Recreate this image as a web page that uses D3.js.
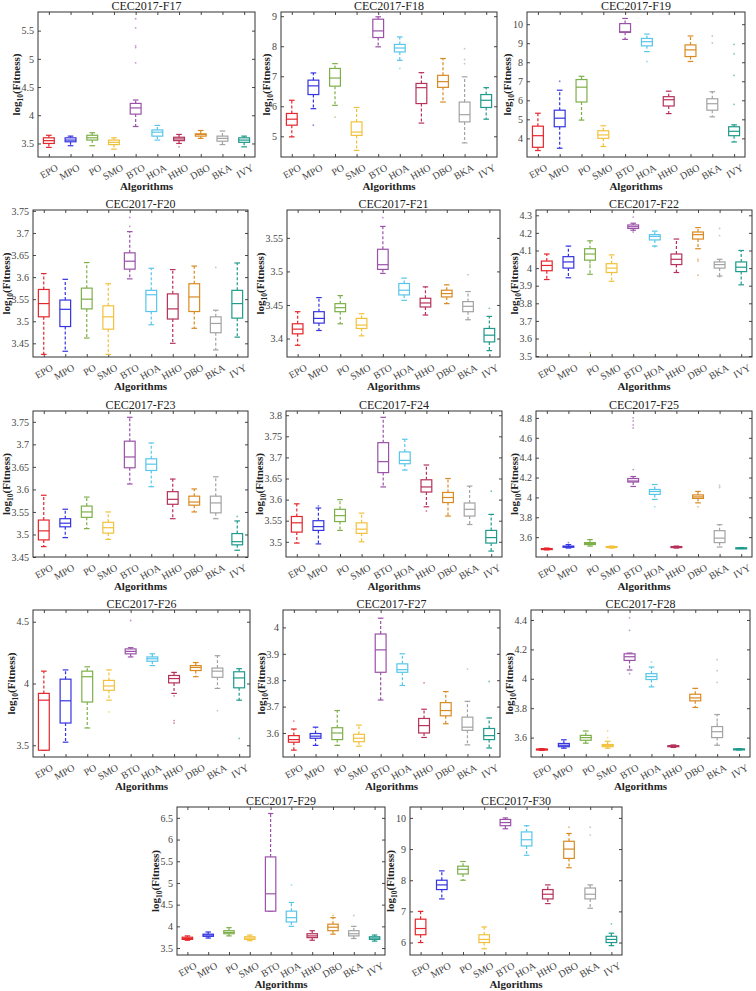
<!DOCTYPE html>
<html><head><meta charset="utf-8">
<script src="https://cdn.jsdelivr.net/npm/d3@7"></script>
<style>
body{margin:0;background:#fff}
svg text{font-family:"Liberation Serif","Times New Roman",serif}
</style>
</head><body>
<svg id="chart" width="756" height="991"></svg>
<script>
const categories = ["EPO","MPO","PO","SMO","BTO","HOA","HHO","DBO","BKA","IVY"];
const colors = ["#e5262c","#3434e0","#7db04a","#f2c13c","#9a52a8","#58c6ea","#b6325a","#d98a22","#a3a3a3","#1f9a8c"];
const titles = ["CEC2017-F17","CEC2017-F18","CEC2017-F19","CEC2017-F20","CEC2017-F21","CEC2017-F22","CEC2017-F23","CEC2017-F24","CEC2017-F25","CEC2017-F26","CEC2017-F27","CEC2017-F28","CEC2017-F29","CEC2017-F30"];

// box stats per algorithm: [lower whisker, Q1, median, Q3, upper whisker]
const F17_box = [[3.43,3.50,3.55,3.60,3.645],[3.46,3.53,3.56,3.60,3.63],[3.46,3.56,3.60,3.645,3.69],[3.40,3.48,3.52,3.56,3.60],[3.80,4.02,4.13,4.21,4.27],[3.56,3.63,3.70,3.74,3.82],[3.50,3.55,3.58,3.61,3.66],[3.59,3.63,3.66,3.67,3.73],[3.48,3.54,3.59,3.63,3.72],[3.44,3.52,3.56,3.60,3.63]];
const F17_out = [[],[],[],[],[4.93,5.20,5.23,5.55,5.71],[],[3.44],[],[],[]];
const F17_ticks = [3.5,4,4.5,5,5.5];
const F17_domain = [3.26,5.83];

const F18_box = [[4.98,5.37,5.57,5.76,6.2],[5.92,6.39,6.68,6.87,7.11],[6.03,6.67,6.94,7.26,7.42],[4.53,5.03,5.14,5.48,5.96],[7.98,8.29,8.51,8.90,8.98],[7.53,7.81,7.94,8.06,8.31],[5.44,6.09,6.62,6.76,7.12],[6.14,6.63,6.82,7.03,7.59],[4.78,5.48,5.72,6.14,6.98],[5.57,5.96,6.2,6.39,6.62]];
const F18_out = [[],[5.37],[5.64],[],[],[7.26],[],[],[7.92,7.56,7.42],[]];
const F18_ticks = [5,6,7,8,9];
const F18_domain = [4.31,9.14];

const F19_box = [[3.36,3.53,4.14,4.64,5.32],[3.48,4.61,5.06,5.48,6.53],[4.96,5.91,6.69,7.09,7.26],[3.57,4.0,4.18,4.4,4.66],[9.2,9.57,9.6,10.03,10.3],[8.56,8.86,9.08,9.25,9.48],[5.3,5.7,6.03,6.19,6.48],[8.04,8.3,8.65,8.91,9.38],[5.13,5.48,5.82,6.08,6.45],[3.81,4.14,4.37,4.61,4.71]];
const F19_out = [[],[7.0],[],[],[],[8.04],[],[],[9.38,9.01],[8.94,8.44,7.31,5.79]];
const F19_ticks = [4,5,6,7,8,9,10];
const F19_domain = [3.02,10.64];

const F20_box = [[3.425,3.51,3.54,3.572,3.608],[3.432,3.488,3.527,3.548,3.595],[3.462,3.528,3.55,3.575,3.633],[3.425,3.482,3.51,3.535,3.585],[3.596,3.618,3.636,3.655,3.703],[3.492,3.522,3.56,3.57,3.62],[3.45,3.505,3.528,3.562,3.617],[3.484,3.522,3.555,3.585,3.625],[3.435,3.474,3.495,3.51,3.525],[3.464,3.507,3.54,3.57,3.632]];
const F20_out = [[],[],[],[],[3.715,3.735],[],[],[],[3.622],[]];
const F20_ticks = [3.45,3.5,3.55,3.6,3.65,3.7,3.75];
const F20_domain = [3.419,3.752];

const F21_box = [[3.39,3.407,3.414,3.422,3.44],[3.412,3.423,3.43,3.44,3.461],[3.422,3.44,3.446,3.452,3.464],[3.404,3.415,3.42,3.43,3.437],[3.497,3.503,3.51,3.533,3.567],[3.457,3.465,3.472,3.482,3.49],[3.435,3.447,3.453,3.46,3.477],[3.452,3.462,3.467,3.472,3.48],[3.428,3.44,3.448,3.455,3.47],[3.382,3.395,3.405,3.415,3.433]];
const F21_out = [[],[],[],[],[3.58],[],[],[],[3.495],[3.445]];
const F21_ticks = [3.4,3.45,3.5,3.55];
const F21_domain = [3.3725,3.5915];

const F22_box = [[3.935,3.985,4.015,4.04,4.08],[3.945,4.0,4.035,4.065,4.125],[3.965,4.045,4.08,4.11,4.155],[3.925,3.975,4.0,4.025,4.075],[4.215,4.225,4.235,4.245,4.255],[4.125,4.16,4.18,4.19,4.21],[3.975,4.02,4.05,4.08,4.165],[4.11,4.165,4.19,4.205,4.23],[3.955,4.0,4.02,4.035,4.05],[3.905,3.98,4.005,4.035,4.1]];
const F22_out = [[],[],[4.02,3.52],[],[4.29,4.205],[4.12],[],[4.05,4.04,3.96],[4.225,4.185,3.95],[]];
const F22_ticks = [3.5,3.6,3.7,3.8,3.9,4,4.1,4.2,4.3];
const F22_domain = [3.495,4.33];

const F23_box = [[3.473,3.488,3.508,3.532,3.587],[3.493,3.517,3.525,3.535,3.556],[3.513,3.538,3.55,3.563,3.583],[3.489,3.503,3.515,3.527,3.55],[3.612,3.648,3.672,3.707,3.76],[3.606,3.642,3.656,3.668,3.703],[3.535,3.567,3.578,3.595,3.623],[3.55,3.565,3.572,3.585,3.601],[3.535,3.548,3.57,3.585,3.628],[3.465,3.477,3.484,3.502,3.53]];
const F23_out = [[],[],[],[],[],[],[],[],[],[3.54]];
const F23_ticks = [3.45,3.5,3.55,3.6,3.65,3.7,3.75];
const F23_domain = [3.45,3.774];

const F24_box = [[3.497,3.523,3.545,3.56,3.59],[3.495,3.527,3.536,3.55,3.58],[3.527,3.548,3.562,3.577,3.6],[3.5,3.52,3.53,3.545,3.568],[3.63,3.664,3.69,3.735,3.795],[3.67,3.685,3.693,3.713,3.743],[3.583,3.618,3.63,3.647,3.682],[3.561,3.593,3.605,3.617,3.65],[3.541,3.561,3.577,3.592,3.632],[3.478,3.497,3.51,3.527,3.565]];
const F24_out = [[],[3.585],[],[],[],[],[3.573],[],[],[3.62]];
const F24_ticks = [3.5,3.55,3.6,3.65,3.7,3.75,3.8];
const F24_domain = [3.464,3.81];

const F25_box = [[3.472,3.477,3.48,3.485,3.49],[3.49,3.498,3.505,3.51,3.525],[3.51,3.525,3.535,3.545,3.575],[3.49,3.495,3.5,3.505,3.51],[4.11,4.155,4.165,4.19,4.21],[3.98,4.03,4.06,4.08,4.13],[3.49,3.495,3.5,3.505,3.51],[3.945,3.99,4.005,4.025,4.06],[3.5,3.545,3.59,3.665,3.725],[3.485,3.488,3.49,3.492,3.495]];
const F25_out = [[],[3.545],[],[],[4.28,4.7,4.73,4.77,4.8],[3.905],[],[3.905],[4.1,4.12],[]];
const F25_ticks = [3.6,3.8,4,4.2,4.4,4.6,4.8];
const F25_domain = [3.40,4.87];

const F26_box = [[3.46,3.46,3.865,3.92,4.1],[3.525,3.68,3.86,4.035,4.11],[3.64,3.85,4.055,4.1,4.135],[3.865,3.945,3.98,4.025,4.11],[4.215,4.24,4.26,4.28,4.29],[4.145,4.18,4.2,4.215,4.24],[3.92,4.005,4.04,4.065,4.09],[4.055,4.105,4.13,4.145,4.17],[3.96,4.05,4.1,4.125,4.225],[3.865,3.965,4.045,4.095,4.12]];
const F26_out = [[],[],[],[3.77],[4.51],[],[3.9,3.7,3.68],[],[3.78],[3.555]];
const F26_ticks = [3.5,4,4.5];
const F26_domain = [3.405,4.595];

const F27_box = [[3.535,3.565,3.575,3.59,3.615],[3.553,3.58,3.588,3.598,3.622],[3.553,3.575,3.6,3.62,3.685],[3.55,3.567,3.58,3.595,3.63],[3.725,3.83,3.915,3.975,4.035],[3.78,3.83,3.84,3.862,3.9],[3.583,3.6,3.628,3.655,3.69],[3.635,3.665,3.685,3.715,3.757],[3.555,3.61,3.622,3.66,3.72],[3.543,3.575,3.59,3.617,3.657]];
const F27_out = [[3.645],[],[],[],[],[],[3.79],[],[3.842],[3.795]];
const F27_ticks = [3.6,3.7,3.8,3.9,4];
const F27_domain = [3.509,4.066];

const F28_box = [[3.513,3.517,3.52,3.522,3.525],[3.528,3.538,3.548,3.56,3.585],[3.562,3.582,3.6,3.615,3.645],[3.528,3.538,3.545,3.553,3.575],[4.06,4.125,4.15,4.17,4.175],[3.945,3.995,4.015,4.035,4.08],[3.533,3.538,3.542,3.545,3.55],[3.805,3.85,3.87,3.895,3.935],[3.548,3.6,3.64,3.675,3.757],[3.516,3.519,3.521,3.523,3.525]];
const F28_out = [[],[],[],[3.645,3.6],[4.415,4.33,4.035],[4.115],[],[],[4.13,4.055,3.975,3.7],[]];
const F28_ticks = [3.6,3.8,4,4.2,4.4];
const F28_domain = [3.468,4.468];

const F29_box = [[3.68,3.7,3.72,3.75,3.78],[3.73,3.77,3.8,3.82,3.87],[3.78,3.83,3.86,3.9,3.97],[3.67,3.7,3.73,3.76,3.8],[4.35,4.35,4.75,5.6,6.6],[4.0,4.1,4.2,4.35,4.55],[3.68,3.74,3.78,3.83,3.9],[3.82,3.9,3.98,4.05,4.2],[3.72,3.78,3.83,3.9,4.0],[3.66,3.7,3.73,3.76,3.8]];
const F29_out = [[],[],[],[],[],[4.95],[],[4.25],[4.25],[]];
const F29_ticks = [3.5,4,4.5,5,5.5,6,6.5];
const F29_domain = [3.34,6.75];

const F30_box = [[6.0,6.25,6.45,6.75,7.0],[7.4,7.7,7.85,8.0,8.3],[8.0,8.2,8.35,8.45,8.6],[5.8,6.0,6.1,6.25,6.5],[9.65,9.75,9.85,9.95,10.0],[8.8,9.1,9.3,9.55,9.75],[7.25,7.4,7.55,7.7,7.85],[8.4,8.7,9.0,9.25,9.5],[7.1,7.4,7.55,7.75,7.85],[5.9,6.0,6.1,6.2,6.3]];
const F30_out = [[],[],[],[],[10.3],[],[],[9.7],[9.7,9.45],[6.6]];
const F30_ticks = [6,7,8,9,10];
const F30_domain = [5.6,10.35];

const boxes = [F17_box,F18_box,F19_box,F20_box,F21_box,F22_box,F23_box,F24_box,F25_box,F26_box,F27_box,F28_box,F29_box,F30_box];
const outs = [F17_out,F18_out,F19_out,F20_out,F21_out,F22_out,F23_out,F24_out,F25_out,F26_out,F27_out,F28_out,F29_out,F30_out];
const ticksList = [F17_ticks,F18_ticks,F19_ticks,F20_ticks,F21_ticks,F22_ticks,F23_ticks,F24_ticks,F25_ticks,F26_ticks,F27_ticks,F28_ticks,F29_ticks,F30_ticks];
const domains = [F17_domain,F18_domain,F19_domain,F20_domain,F21_domain,F22_domain,F23_domain,F24_domain,F25_domain,F26_domain,F27_domain,F28_domain,F29_domain,F30_domain];

// plot-area layout [left, top, width, height]
const layout = [
  [38,12,217,145],[281,12,216,145],[527,12,218,145],
  [33,210,215,147],[287,210,213,147],[536,210,216,147],
  [33,411,215,146],[286,411,216,146],[536,411,216,146],
  [33,610,217,147],[283,610,217,147],[531,610,219,147],
  [177,807,208,148],[410,807,212,148]
];

const svg = d3.select("#chart");
const fmt = v => String(+v.toFixed(2));

titles.forEach((title, p) => {
  const [L, T, W, H] = layout[p];
  const g = svg.append("g").attr("transform", `translate(${L},${T})`);
  const x = d3.scalePoint().domain(categories).range([0, W]).padding(0.5);
  const y = d3.scaleLinear().domain(domains[p]).range([H, 0]);
  const step = x.step();
  const bw = step * 0.25, cw = step * 0.13;

  // axes
  const la = g.append("g").call(d3.axisLeft(y).tickValues(ticksList[p]).tickFormat(fmt).tickSize(-3).tickPadding(4));
  const ra = g.append("g").attr("transform", `translate(${W},0)`).call(d3.axisRight(y).tickValues(ticksList[p]).tickFormat("").tickSize(-3));
  const ba = g.append("g").attr("transform", `translate(0,${H})`).call(d3.axisBottom(x).tickSize(-3).tickPadding(5));
  const ta = g.append("g").call(d3.axisTop(x).tickSize(-3).tickFormat(""));
  [la, ra, ba, ta].forEach(a => {
    a.select(".domain").remove();
    a.selectAll("line").attr("stroke", "#333").attr("stroke-width", 0.9);
  });
  la.selectAll("text").attr("fill", "#444").style("font-size", "10px");
  ba.selectAll("text").attr("fill", "#444").style("font-size", "10px")
    .attr("text-anchor", "end").attr("dy", "0.6em")
    .attr("transform", "translate(4,3) rotate(-30)");
  g.append("rect").attr("width", W).attr("height", H).attr("fill", "none")
    .attr("stroke", "#333").attr("stroke-width", 1);

  // boxes
  boxes[p].forEach((b, i) => {
    const c = categories[i], cx = x(c), col = colors[i];
    const [lo, q1, md, q3, hi] = b;
    const bg = g.append("g");
    bg.append("line").attr("x1", cx).attr("x2", cx).attr("y1", y(q3)).attr("y2", y(hi))
      .attr("stroke", col).attr("stroke-width", 1.2).attr("stroke-dasharray", "3,2");
    bg.append("line").attr("x1", cx).attr("x2", cx).attr("y1", y(q1)).attr("y2", y(lo))
      .attr("stroke", col).attr("stroke-width", 1.2).attr("stroke-dasharray", "3,2");
    [lo, hi].forEach(v => bg.append("line").attr("x1", cx - cw).attr("x2", cx + cw)
      .attr("y1", y(v)).attr("y2", y(v)).attr("stroke", col).attr("stroke-width", 1.2));
    bg.append("rect").attr("x", cx - bw).attr("width", 2 * bw)
      .attr("y", y(q3)).attr("height", Math.max(1, y(q1) - y(q3)))
      .attr("fill", "#fff").attr("stroke", col).attr("stroke-width", 1.2);
    bg.append("line").attr("x1", cx - bw).attr("x2", cx + bw).attr("y1", y(md)).attr("y2", y(md))
      .attr("stroke", col).attr("stroke-width", 1.2);
    outs[p][i].forEach(v => bg.append("circle").attr("cx", cx).attr("cy", y(v)).attr("r", 0.9)
      .attr("fill", col).attr("opacity", 0.6));
  });

  // title and labels
  g.append("text").attr("x", W / 2).attr("y", -2).attr("text-anchor", "middle")
    .style("font-size", "12px").attr("fill", "#222").text(title);
  g.append("text").attr("x", W / 2).attr("y", H + 33).attr("text-anchor", "middle")
    .style("font-size", "11px").style("font-weight", "bold").attr("fill", "#222").text("Algorithms");
  const bb = la.node().getBBox();
  const lx = Math.max(bb.x - 2, 10 - L);
  const yl = g.append("text").attr("transform", `translate(${lx},${H / 2}) rotate(-90)`)
    .attr("text-anchor", "middle").style("font-size", "11px").style("font-weight", "bold").attr("fill", "#222");
  yl.append("tspan").text("log");
  yl.append("tspan").attr("dy", 3).style("font-size", "7.5px").text("10");
  yl.append("tspan").attr("dy", -3).text("(Fitness)");
});
</script>
</body></html>
